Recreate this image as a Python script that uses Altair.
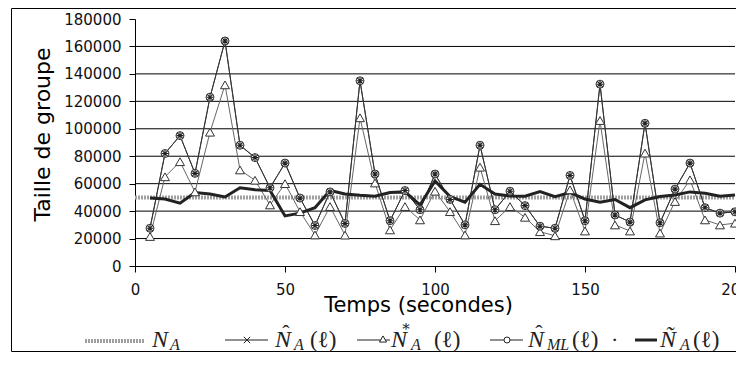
import altair as alt
import pandas as pd

# ---------------- data ----------------
times = list(range(5, 205, 5))
n_ml = [27500, 82000, 95000, 67500, 123000, 164000, 88000, 79000, 57000, 75000,
        49500, 29500, 54000, 31000, 135000, 67000, 33000, 55000, 41000, 67000,
        48500, 30000, 88000, 41000, 54500, 44000, 29000, 27500, 66000, 33000,
        132500, 37200, 32000, 104000, 31500, 56000, 75000, 42500, 38500, 39500]
n_hat = [27500, 82000, 95000, 67500, 123000, 164000, 88000, 79000, 57000, 75000,
         49500, 29500, 54000, 31000, 135000, 67000, 33000, 55000, 41000, 67000,
         48500, 30000, 88000, 41000, 54500, 44000, 29000, 27500, 66000, 33000,
         132500, 37200, 32000, 104000, 31500, 56000, 75000, 42500, 38500, 39500]
n_star = [21500, 65000, 76000, 54000, 97500, 132000, 70000, 62500, 44500, 60000,
          39600, 22600, 43300, 22500, 108000, 60500, 26300, 43300, 33600, 54500,
          39600, 22600, 72000, 33000, 43300, 35500, 25000, 22000, 55500, 25500,
          106000, 29900, 25500, 82300, 24000, 47000, 62800, 33600, 29900, 31200]
n_tilde = [49500, 48800, 45800, 53500, 52500, 50300, 57000, 55500, 55000, 36500,
           38500, 42500, 55000, 52500, 51500, 50800, 53500, 54000, 44500, 62000,
           50600, 46500, 59500, 52500, 51000, 50800, 54200, 50500, 53500, 48800,
           46500, 48500, 42500, 48200, 50600, 51800, 54000, 53000, 50800, 51800]
na_times = [0, 200]
na_values = [50000, 50000]
y_ticks = [0, 20000, 40000, 60000, 80000, 100000, 120000, 140000, 160000, 180000]
grid_values = [20000, 40000, 60000, 80000, 100000, 120000, 140000, 160000]
x_ticks = [0, 50, 100, 150, 200]

df = pd.DataFrame({"t": times, "ml": n_ml, "hat": n_hat, "star": n_star, "tilde": n_tilde})
na_df = pd.DataFrame({"t": na_times, "v": na_values})
grid_df = pd.DataFrame({"g": grid_values})
one = pd.DataFrame({"k": [0]})

# ---------------- scales / axes ----------------
W, H = 600, 247
OX, OY = 135, 19  # page position of plot origin
xs = alt.Scale(domain=[0, 200], nice=False, zero=False)
ys = alt.Scale(domain=[0, 180000], nice=False)
x_axis = alt.Axis(values=x_ticks, format="d", grid=False, domainColor="black",
                  tickColor="black", tickSize=6, labelPadding=10, labelFlush=False,
                  labelFont="DejaVu Sans", labelFontSize=15, labelColor="#111",
                  titleFont="DejaVu Sans", titleFontSize=21, titleFontWeight="normal",
                  titleColor="black", titleX=283, titleY=45, titleBaseline="alphabetic",
                  titleAlign="center")
y_axis = alt.Axis(values=y_ticks, format="d", grid=False, domainColor="black",
                  tickColor="black", tickSize=6, labelPadding=8,
                  labelFont="DejaVu Sans", labelFontSize=15, labelColor="#111",
                  titleFont="DejaVu Sans", titleFontSize=22, titleFontWeight="normal",
                  titleColor="black", titleAngle=270, titleX=-93, titleY=115,
                  titleAlign="center", titleBaseline="middle")
XT = "Temps (secondes)"
YT = "Taille de groupe"


def X(f):
    return alt.X(f, type="quantitative", scale=xs, axis=x_axis, title=XT)


def Y(f):
    return alt.Y(f, type="quantitative", scale=ys, axis=y_axis, title=YT)


base = alt.Chart(df)

grid = alt.Chart(grid_df).mark_rule(color="black", strokeWidth=1).encode(y=Y("g"))
na_line = alt.Chart(na_df).mark_line(color="#a0a0a0", strokeWidth=4, strokeDash=[2, 1]).encode(x=X("t"), y=Y("v"))
star_line = base.mark_line(color="#666666", strokeWidth=1).encode(x=X("t"), y=Y("star"))
ml_line = base.mark_line(color="#444444", strokeWidth=1).encode(x=X("t"), y=Y("ml"))
hat_line = base.mark_line(color="#333333", strokeWidth=1).encode(x=X("t"), y=Y("hat"))
tilde_line = base.mark_line(color="#222222", strokeWidth=3).encode(x=X("t"), y=Y("tilde"))
star_pts = base.mark_point(shape="triangle-up", size=80, filled=True, fill="white",
                           stroke="#333333", strokeWidth=1, opacity=1).encode(x=X("t"), y=Y("star"))
ml_pts = base.mark_point(shape="circle", size=64, filled=True, fill="white",
                         stroke="#333333", strokeWidth=1, opacity=1).encode(x=X("t"), y=Y("ml"))
STARPATH = "M-0.7,-0.7L0.7,0.7M-0.7,0.7L0.7,-0.7M0,-0.9L0,0.9M-0.9,0L0.9,0"
hat_pts = base.mark_point(shape=STARPATH, size=64, filled=False, stroke="#222222",
                          strokeWidth=1.1, opacity=1).encode(x=X("t"), y=Y("hat"))

# ---------------- frame and hand-made legend ----------------
frame = alt.Chart(one).mark_rect(fillOpacity=0, stroke="black", strokeWidth=1).encode(
    x=alt.value(11.5 - OX), x2=alt.value(800), y=alt.value(8.5 - OY), y2=alt.value(351.5 - OY))


def lrule(x1, x2, y, color="#222222", width=1, dash=None):
    kw = dict(color=color, strokeWidth=width)
    if dash:
        kw["strokeDash"] = dash
    return alt.Chart(one).mark_rule(**kw).encode(
        x=alt.value(x1 - OX), x2=alt.value(x2 - OX), y=alt.value(y - OY))


def lpoint(x, y, shape, size, fill="white"):
    return alt.Chart(one).mark_point(shape=shape, size=size, filled=True, fill=fill,
                                     stroke="#222222", strokeWidth=1, opacity=1).encode(
        x=alt.value(x - OX), y=alt.value(y - OY))


def ltext(s, x, y, size, style="italic", align="left", font="Liberation Serif"):
    return alt.Chart(one).mark_text(text=s, align=align, baseline="alphabetic",
                                    font=font, fontSize=size,
                                    fontStyle=style, color="#222222").encode(
        x=alt.value(x - OX), y=alt.value(y - OY))


LY = 340   # legend line height (page)
TB = 347   # legend text baseline (page)
legend = [
    lrule(85, 145, LY + 1, color="#a0a0a0", width=4, dash=[2, 1]),
    ltext("N", 152, TB, 24), ltext("A", 170, TB + 3, 16),
    lrule(225, 268, LY),
    lpoint(247, LY, "M-1,-1L1,1M-1,1L1,-1", 40, fill="none"),
    ltext("N", 275, TB, 24), ltext("\u02c6", 286, TB - 7, 22, style="normal", align="center"),
    ltext("A", 294, TB + 3, 16), ltext("(\u2113)", 310, TB, 23, style="normal"),
    lrule(357, 390, LY),
    lpoint(383, LY - 1, "triangle-up", 50),
    ltext("N", 391, TB, 24),
    ltext("*", 406, TB - 13, 15, style="normal", align="center", font="DejaVu Serif"),
    ltext("A", 411, TB + 3, 16), ltext("(\u2113)", 434, TB, 23, style="normal"),
    lrule(490, 523, LY),
    lpoint(507, LY, "circle", 36),
    ltext("N", 528, TB, 24), ltext("\u02c6", 539, TB - 7, 22, style="normal", align="center"),
    ltext("ML", 547, TB + 3, 16), ltext("(\u2113)", 572, TB, 23, style="normal"),
    ltext("\u00b7", 611, TB, 22, style="normal"),
    lrule(635, 657, LY, width=3),
    ltext("\u00d1", 660, TB, 24), ltext("A", 680, TB + 3, 16),
    ltext("(\u2113)", 693, TB, 23, style="normal"),
]

chart = alt.layer(
    frame, grid, na_line, star_line, ml_line, hat_line, tilde_line,
    star_pts, ml_pts, hat_pts, *legend
).properties(
    width=W, height=H,
    padding={"left": 127, "top": 11, "right": 1, "bottom": 86},
    autosize=alt.AutoSizeParams(type="none"),
    background="white",
).configure_view(stroke=None)

chart.save("out.html", embed_options={"renderer": "svg", "actions": False})
